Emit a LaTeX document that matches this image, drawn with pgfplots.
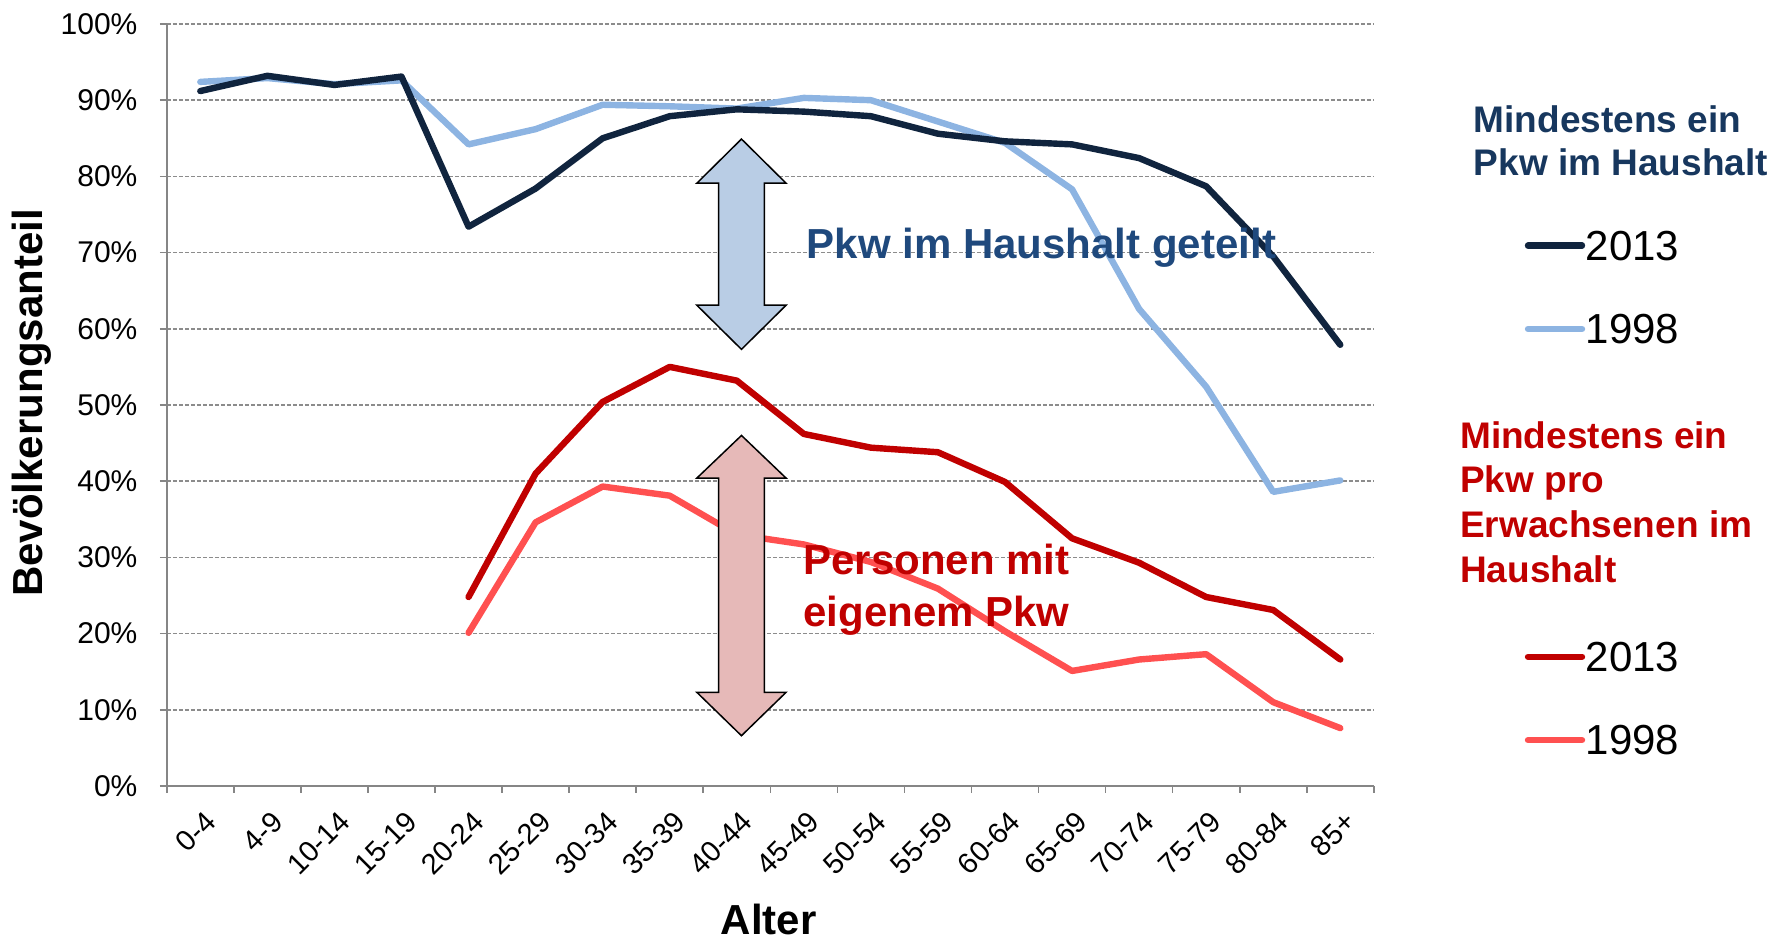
\documentclass[border=0pt]{standalone}
\usepackage{pgfplots}
\pgfplotsset{compat=1.18}
\usepackage{fontspec}
\setmainfont{Liberation Sans}

\definecolor{navy}{HTML}{10243E}
\definecolor{lightblue}{HTML}{8DB4E2}
\definecolor{darkred}{HTML}{C00000}
\definecolor{lightred}{HTML}{FF5050}
\definecolor{annotblue}{HTML}{1F497D}
\definecolor{titleblue}{HTML}{17375E}
\definecolor{arrowblue}{HTML}{B9CDE5}
\definecolor{arrowred}{HTML}{E6B9B8}
\definecolor{axisgray}{HTML}{868686}
\definecolor{gridgray}{HTML}{8C8C8C}

\newcommand{\bigtxt}{\fontsize{21}{26}\selectfont}

\begin{document}
\begin{tikzpicture}
\begin{axis}[
  at={(0pt,0pt)}, anchor=south west,
  scale only axis, width=603.5pt, height=381pt,
  xmin=-0.5, xmax=17.5, ymin=0, ymax=100,
  axis x line*=bottom, axis y line*=left,
  axis line style={draw=axisgray, line width=0.8pt},
  xtick={0,...,17},
  xticklabels={0-4,4-9,10-14,15-19,20-24,25-29,30-34,35-39,40-44,45-49,50-54,55-59,60-64,65-69,70-74,75-79,80-84,85+},
  minor xtick={-0.5,0.5,...,17.5},
  ytick={0,10,...,100},
  yticklabel={\pgfmathprintnumber{\tick}\%},
  /pgf/number format/assume math mode=true,
  tick align=outside,
  major tick length=3.5pt, minor tick length=3.5pt,
  tick style={axisgray, line width=0.8pt},
  major x tick style={draw=none},
  ymajorgrids,
  grid style={gridgray, dash pattern=on 2pt off 1pt, line width=0.8pt},
  yticklabel style={font=\fontsize{15}{18}\selectfont, inner sep=0pt, xshift=-11pt},
  xticklabel style={font=\fontsize{14.5}{17}\selectfont, inner sep=0pt, xshift=1.4pt, yshift=-8pt, rotate=45, anchor=north east},
  every axis plot/.append style={line width=3.2pt, line cap=round, line join=round, no markers},
  clip=false,
]
% Mindestens ein Pkw im Haushalt
\addplot[lightblue] coordinates {(0,92.4)(1,92.9)(2,92.1)(3,92.6)(4,84.2)(5,86.2)(6,89.4)(7,89.2)(8,88.9)(9,90.3)(10,90.0)(11,87.2)(12,84.4)(13,78.3)(14,62.6)(15,52.4)(16,38.6)(17,40.1)};
\addplot[navy] coordinates {(0,91.2)(1,93.2)(2,92.0)(3,93.1)(4,73.4)(5,78.4)(6,85.0)(7,87.9)(8,88.8)(9,88.5)(10,87.9)(11,85.6)(12,84.6)(13,84.2)(14,82.4)(15,78.7)(16,69.5)(17,57.9)};
% Mindestens ein Pkw pro Erwachsenen im Haushalt
\addplot[lightred] coordinates {(4,20.1)(5,34.6)(6,39.3)(7,38.1)(8,33.0)(9,31.7)(10,29.4)(11,25.9)(12,20.3)(13,15.1)(14,16.6)(15,17.3)(16,11.0)(17,7.6)};
\addplot[darkred] coordinates {(4,24.8)(5,41.0)(6,50.4)(7,55.0)(8,53.2)(9,46.2)(10,44.4)(11,43.8)(12,39.9)(13,32.5)(14,29.3)(15,24.8)(16,23.1)(17,16.6)};

% Doppelpfeile
\draw[fill=arrowblue, line width=0.75pt, line join=miter]
  (axis cs:8.07,84.9) -- (axis cs:8.736,79.1) -- (axis cs:8.41,79.1) -- (axis cs:8.41,63.1)
  -- (axis cs:8.736,63.1) -- (axis cs:8.07,57.3) -- (axis cs:7.404,63.1) -- (axis cs:7.73,63.1)
  -- (axis cs:7.73,79.1) -- (axis cs:7.404,79.1) -- cycle;
\draw[fill=arrowred, line width=0.75pt, line join=miter]
  (axis cs:8.07,46.0) -- (axis cs:8.736,40.4) -- (axis cs:8.41,40.4) -- (axis cs:8.41,12.3)
  -- (axis cs:8.736,12.3) -- (axis cs:8.07,6.6) -- (axis cs:7.404,12.3) -- (axis cs:7.73,12.3)
  -- (axis cs:7.73,40.4) -- (axis cs:7.404,40.4) -- cycle;

\node[anchor=west, inner sep=0pt, text=annotblue, font=\bfseries\bigtxt] at (axis cs:9.04,70.6) {Pkw im Haushalt geteilt};
\node[align=center, inner sep=0pt, text=darkred, font=\bfseries\bigtxt] at (axis cs:10.98,25.8) {Personen mit\\eigenem Pkw};
\end{axis}

% Achsentitel
\node[rotate=90, inner sep=0pt, font=\bfseries\bigtxt] at (-67.4pt,191.5pt) {Bevölkerungsanteil};
\node[inner sep=0pt, font=\bfseries\bigtxt] at (300.9pt,-66.5pt) {Alter};

% Legende
\node[anchor=west, inner sep=0pt, align=left, text=titleblue, font=\bfseries\fontsize{18.5}{21.7}\selectfont] at (653.3pt,322.75pt) {Mindestens ein\\Pkw im Haushalt};
\draw[navy, line width=3.2pt, line cap=round] (680.6pt,270.2pt) -- (707.6pt,270.2pt);
\node[anchor=west, inner sep=0pt, font=\bigtxt] at (709.3pt,270.2pt) {2013};
\draw[lightblue, line width=3.2pt, line cap=round] (680.6pt,228.5pt) -- (707.6pt,228.5pt);
\node[anchor=west, inner sep=0pt, font=\bigtxt] at (709.3pt,228.5pt) {1998};

\node[anchor=west, inner sep=0pt, align=left, text=darkred, font=\bfseries\fontsize{18.5}{22.3}\selectfont] at (646.5pt,142pt) {Mindestens ein\\Pkw pro\\Erwachsenen im\\Haushalt};
\draw[darkred, line width=3.2pt, line cap=round] (680.6pt,64.6pt) -- (707.6pt,64.6pt);
\node[anchor=west, inner sep=0pt, font=\bigtxt] at (709.3pt,64.6pt) {2013};
\draw[lightred, line width=3.2pt, line cap=round] (680.6pt,22.9pt) -- (707.6pt,22.9pt);
\node[anchor=west, inner sep=0pt, font=\bigtxt] at (709.3pt,22.9pt) {1998};

\pgfresetboundingbox
\path[use as bounding box] (-83.4pt,-77pt) rectangle (812.1pt,393pt);
\end{tikzpicture}
\end{document}
